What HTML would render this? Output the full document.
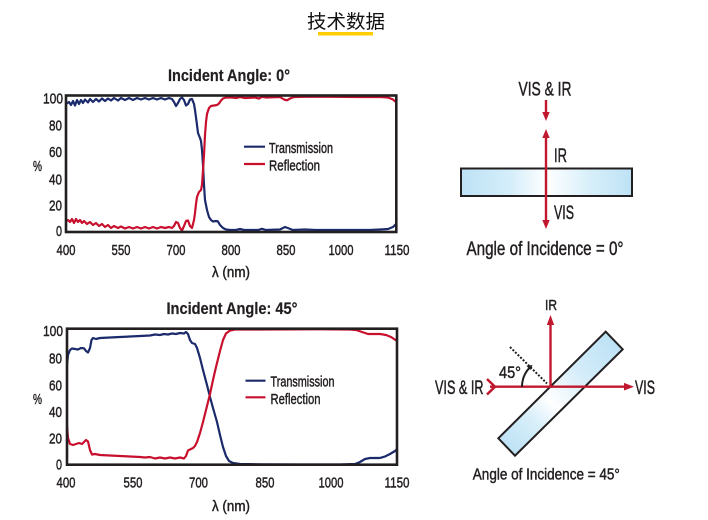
<!DOCTYPE html>
<html><head><meta charset="utf-8"><style>
html,body{margin:0;padding:0;background:#fff;}
svg{display:block;}
text{font-family:"Liberation Sans","Noto Sans CJK SC",sans-serif;fill:#231f20;stroke:#231f20;stroke-width:0.45;}
text.b{stroke-width:0.2;}
text.cjk{stroke:none;}
</style></head><body>
<svg width="708" height="520" viewBox="0 0 708 520" xmlns="http://www.w3.org/2000/svg">
<defs>
<linearGradient id="g0" x1="461" y1="0" x2="632" y2="0" gradientUnits="userSpaceOnUse">
<stop offset="0" stop-color="#bde2f5"/><stop offset="0.3" stop-color="#d6eefa"/><stop offset="0.5" stop-color="#ffffff"/><stop offset="0.75" stop-color="#d8effa"/><stop offset="1" stop-color="#bde2f5"/>
</linearGradient>
<linearGradient id="g1" x1="506" y1="447" x2="614" y2="340" gradientUnits="userSpaceOnUse">
<stop offset="0" stop-color="#bde2f5"/><stop offset="0.25" stop-color="#d8effa"/><stop offset="0.42" stop-color="#ffffff"/><stop offset="0.7" stop-color="#d3ecf9"/><stop offset="1" stop-color="#bde2f5"/>
</linearGradient>
<clipPath id="c0"><rect x="67" y="96" width="329" height="135"/></clipPath>
<clipPath id="c1"><rect x="68" y="329" width="328" height="135"/></clipPath>
</defs>

<!-- main title -->
<text class="cjk" x="307" y="28" font-size="19" textLength="78" lengthAdjust="spacingAndGlyphs" style="fill:#111">技术数据</text>
<rect x="318" y="32" width="55" height="3.5" fill="#ffcc00"/>

<!-- ===== TOP CHART ===== -->
<text class="b" x="229" y="81" font-size="17" font-weight="bold" text-anchor="middle" textLength="122" lengthAdjust="spacingAndGlyphs">Incident Angle: 0°</text>
<g font-size="15" text-anchor="end">
<text x="63" y="103.5" textLength="20" lengthAdjust="spacingAndGlyphs">100</text>
<text x="62" y="130.5" textLength="13" lengthAdjust="spacingAndGlyphs">80</text>
<text x="62" y="157" textLength="13" lengthAdjust="spacingAndGlyphs">60</text>
<text x="62" y="184.5" textLength="13" lengthAdjust="spacingAndGlyphs">40</text>
<text x="62" y="210.5" textLength="13" lengthAdjust="spacingAndGlyphs">20</text>
<text x="62" y="236" textLength="6" lengthAdjust="spacingAndGlyphs">0</text>
</g>
<text x="33" y="171" font-size="15" textLength="9" lengthAdjust="spacingAndGlyphs">%</text>
<g font-size="15" text-anchor="middle">
<text x="66" y="255" textLength="19" lengthAdjust="spacingAndGlyphs">400</text>
<text x="121" y="255" textLength="19" lengthAdjust="spacingAndGlyphs">550</text>
<text x="176" y="255" textLength="19" lengthAdjust="spacingAndGlyphs">700</text>
<text x="231" y="255" textLength="19" lengthAdjust="spacingAndGlyphs">800</text>
<text x="286" y="255" textLength="19" lengthAdjust="spacingAndGlyphs">850</text>
<text x="341" y="255" textLength="25" lengthAdjust="spacingAndGlyphs">1000</text>
<text x="397" y="255" textLength="25" lengthAdjust="spacingAndGlyphs">1150</text>
</g>
<text x="231" y="277" font-size="15" text-anchor="middle" textLength="38" lengthAdjust="spacingAndGlyphs">λ (nm)</text>

<g clip-path="url(#c0)" fill="none" stroke-width="2.2" stroke-linejoin="round" stroke-linecap="round">
<polyline stroke="#1b2a6b" points="66,104 69,102 71,105 73,101 75,105.5 77,100 79,104 81,100 83,103 85,99.5 88,102.5 90,99 93,102 96,99 99,101.5 102,98.5 105,101 108,98.5 111,100.5 114,98 118,100.5 121,98 125,100 129,98 133,100 137,98 141,99.5 145,98 149,99.5 153,98 157,99.5 161,98 165,99.5 169,98 172,99 174,102 176,106 178,103 180,99 182,97.5 184,100 186,105.5 188,104 190,99.5 192,99 194,104 195,110 197,125 198,133 200,138 201,141 202,150 203,165 204,185 205,200 207,210 209,217 211,220 213,221.5 216,221 218,221.5 220,225 223,228 226,229.5 230,230 236,230 240,229 244,230 258,230 262,228.8 266,230 280,229.5 285,227 289,228.5 293,230 305,229.5 315,230 340,230 370,230 380,229.5 388,229 393,227 397,223"/>
<polyline stroke="#c8102e" points="66,221 68,220 70,222 72,219 74,223 76,219 78,222 80,220 82,223 84,221 87,224 90,222 93,225 96,223 99,226 102,224 105,227 108,225 111,228 114,226 118,228 121,226.5 125,228.5 129,227 133,228.5 137,227 141,228.5 145,227 149,228.5 153,227 157,228.5 161,227 165,228 169,227 172,228 174,226 176,222 178,223 180,228 182,230.5 184,226 186,221 188,220.5 190,226 192,228 194,220 195,213 196,204 197,197 199,192 201,190 202,185 203,170 204,155 205,135 206,122 207,114 209,108 211,106 214,105.5 217,105 219,103.5 221,100.5 223,98.5 226,97.5 232,97.5 236,98 240,97 245,98 255,97.5 259,98.5 262,96.8 266,97.5 280,97 284,99.5 287,100.3 290,98.5 294,97 305,96.8 330,96.8 360,97 380,97 388,97.5 393,99.5 397,103"/>
</g>
<rect x="66" y="95.5" width="330.3" height="136.5" fill="none" stroke="#231f20" stroke-width="2.6"/>
<line x1="244" y1="146.7" x2="265" y2="146.7" stroke="#1b2a6b" stroke-width="2.2"/>
<line x1="244" y1="164" x2="265" y2="164" stroke="#c8102e" stroke-width="2.2"/>
<text x="269" y="153" font-size="15" textLength="64" lengthAdjust="spacingAndGlyphs">Transmission</text>
<text x="269" y="170.5" font-size="15" textLength="51" lengthAdjust="spacingAndGlyphs">Reflection</text>

<!-- ===== BOTTOM CHART ===== -->
<text class="b" x="232" y="314" font-size="17" font-weight="bold" text-anchor="middle" textLength="131" lengthAdjust="spacingAndGlyphs">Incident Angle: 45°</text>
<g font-size="15" text-anchor="end">
<text x="63" y="336" textLength="20" lengthAdjust="spacingAndGlyphs">100</text>
<text x="62" y="363.5" textLength="13" lengthAdjust="spacingAndGlyphs">80</text>
<text x="62" y="390.5" textLength="13" lengthAdjust="spacingAndGlyphs">60</text>
<text x="62" y="417" textLength="13" lengthAdjust="spacingAndGlyphs">40</text>
<text x="62" y="443.5" textLength="13" lengthAdjust="spacingAndGlyphs">20</text>
<text x="62" y="469.5" textLength="6" lengthAdjust="spacingAndGlyphs">0</text>
</g>
<text x="33" y="404" font-size="15" textLength="9" lengthAdjust="spacingAndGlyphs">%</text>
<g font-size="15" text-anchor="middle">
<text x="66" y="487.5" textLength="19" lengthAdjust="spacingAndGlyphs">400</text>
<text x="133" y="487.5" textLength="19" lengthAdjust="spacingAndGlyphs">550</text>
<text x="198.5" y="487.5" textLength="19" lengthAdjust="spacingAndGlyphs">700</text>
<text x="265" y="487.5" textLength="19" lengthAdjust="spacingAndGlyphs">850</text>
<text x="331" y="487.5" textLength="25" lengthAdjust="spacingAndGlyphs">1000</text>
<text x="397" y="487.5" textLength="25" lengthAdjust="spacingAndGlyphs">1150</text>
</g>
<text x="231" y="511" font-size="15" text-anchor="middle" textLength="38" lengthAdjust="spacingAndGlyphs">λ (nm)</text>

<g clip-path="url(#c1)" fill="none" stroke-width="2.2" stroke-linejoin="round" stroke-linecap="round">
<polyline stroke="#1b2a6b" points="66,378 67,365 68,355 70,350 72,348.5 75,349 78,349.5 81,348 84,348.3 86,351 88,352.5 90,348 91.5,340 93,338 96,339 100,338 110,337.5 120,337 130,336.5 140,336 150,335.5 155,334.5 160,335 164,334 168,334.5 172,333.5 176,334 180,333 184,333.5 186,332 188,334 190,340 192,343 195,344 197,348 200,358 203,370 207,385 210,397 213,408 217,422 220,435 223,447 226,456 229,461 233,463 240,464 260,464.3 300,464.5 340,464.5 355,464 360,462 365,459 370,458 380,458 385,456.5 390,454 395,451 397,449"/>
<polyline stroke="#c8102e" points="66,408 67,425 68,438 70,444 73,445 76,444 79,443 82,444 84,442 86,440 88,441.5 90,450 92,454.5 95,454 100,455 110,455.5 120,456 130,456.5 140,457 145,457.5 150,457 155,458.5 160,457.5 165,458.5 170,457.5 175,458.5 180,457.5 184,458.5 186,456 188,450.5 191,449 193,448 195,446 197,442 200,433 203,422 207,406 210,394 213,380 216,367 220,351 223,340 226,333.5 230,330.5 235,329.5 260,329.5 320,329.3 350,329.5 356,330 362,332 368,334 380,334 386,335 391,337 397,341"/>
</g>
<rect x="67" y="328.7" width="330" height="136" fill="none" stroke="#231f20" stroke-width="2.6"/>
<line x1="245.5" y1="380.7" x2="265.5" y2="380.7" stroke="#1b2a6b" stroke-width="2.2"/>
<line x1="245.5" y1="397.3" x2="265.5" y2="397.3" stroke="#c8102e" stroke-width="2.2"/>
<text x="270.5" y="386.7" font-size="15" textLength="64" lengthAdjust="spacingAndGlyphs">Transmission</text>
<text x="270.5" y="404" font-size="15" textLength="50" lengthAdjust="spacingAndGlyphs">Reflection</text>

<!-- ===== TOP DIAGRAM ===== -->
<text x="545" y="95.3" font-size="19" text-anchor="middle" textLength="53" lengthAdjust="spacingAndGlyphs">VIS &amp; IR</text>
<line x1="546" y1="100" x2="546" y2="114" stroke="#c0182e" stroke-width="2.4"/>
<polygon points="546,121 542.3,112 549.7,112" fill="#c0182e"/>
<rect x="461" y="168.5" width="171" height="27.5" fill="url(#g0)" stroke="#231f20" stroke-width="2"/>
<line x1="546" y1="136" x2="546" y2="222" stroke="#c0182e" stroke-width="2.4"/>
<polygon points="546,129 542.3,138 549.7,138" fill="#c0182e"/>
<polygon points="546,229 542.3,220 549.7,220" fill="#c0182e"/>
<text x="554" y="162" font-size="19" textLength="13" lengthAdjust="spacingAndGlyphs">IR</text>
<text x="554" y="219" font-size="19" textLength="20" lengthAdjust="spacingAndGlyphs">VIS</text>
<text x="545" y="255" font-size="19" text-anchor="middle" textLength="157" lengthAdjust="spacingAndGlyphs">Angle of Incidence = 0°</text>

<!-- ===== BOTTOM DIAGRAM ===== -->
<polygon points="498.3,438.3 605.7,331.7 622.7,349.3 515,455.7" fill="url(#g1)" stroke="#231f20" stroke-width="2"/>
<line x1="550.5" y1="387" x2="550.5" y2="323" stroke="#c0182e" stroke-width="2.4"/>
<polygon points="550.5,315 546.8,325 554.2,325" fill="#c0182e"/>
<line x1="490" y1="386.7" x2="626" y2="386.7" stroke="#c0182e" stroke-width="2.4"/>
<polygon points="634,386.7 624,382.9 624,390.5" fill="#c0182e"/>
<polyline points="487,379 495,386.7 487,394.5" fill="none" stroke="#c0182e" stroke-width="2.5"/>
<line x1="510" y1="347" x2="547" y2="383.5" stroke="#231f20" stroke-width="2" stroke-dasharray="2,1.6"/>
<path d="M522,386.7 A28,28 0 0 1 530.2,367" fill="none" stroke="#231f20" stroke-width="2"/>
<polygon points="532.5,365 526.5,366 530.5,370" fill="#231f20"/>
<text x="551" y="310" font-size="15" text-anchor="middle" textLength="12" lengthAdjust="spacingAndGlyphs">IR</text>
<text x="483.5" y="394" font-size="19" text-anchor="end" textLength="48.5" lengthAdjust="spacingAndGlyphs">VIS &amp; IR</text>
<text x="635" y="394" font-size="19" textLength="20" lengthAdjust="spacingAndGlyphs">VIS</text>
<text x="510" y="378" font-size="17" text-anchor="middle" textLength="22" lengthAdjust="spacingAndGlyphs">45°</text>
<text x="546.3" y="479.3" font-size="16" text-anchor="middle" textLength="147" lengthAdjust="spacingAndGlyphs">Angle of Incidence = 45°</text>
</svg>
</body></html>
